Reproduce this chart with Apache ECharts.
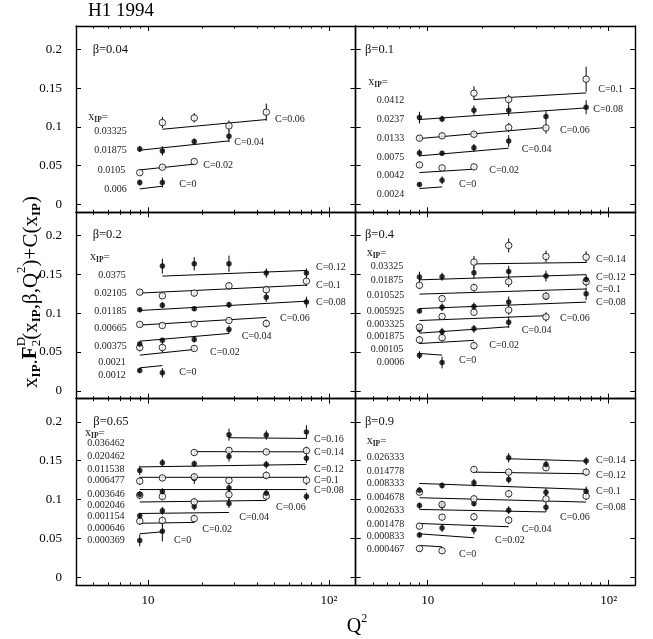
<!DOCTYPE html>
<html><head><meta charset="utf-8">
<script src="https://cdn.jsdelivr.net/npm/echarts@6/dist/echarts.min.js"></script>
<style>html,body{margin:0;padding:0;background:#fff}#c{width:653px;height:639px}</style>
</head><body><div id="c"></div>
<script>
// ---------------- DATA ----------------
const Q2 = [9, 12, 18, 28, 45, 75];
const Y_TICKS = [0, 0.05, 0.1, 0.15, 0.2];
const X_MAJOR = [10, 100];
const X_MINOR = [5, 6, 7, 8, 9, 20, 30, 40, 50, 60, 70, 80, 90];

// beta = 0.04
const b1_beta = 'β=0.04';
const b1_xpom = ['0.006', '0.0105', '0.01875', '0.03325'];
const b1_C = [0, 0.02, 0.04, 0.06];
const b1_y = [
  [0.0283, 0.0283, null, null, null, null],
  [0.0411, 0.0481, 0.0554, null, null, null],
  [0.0717, 0.0691, 0.0811, 0.0880, null, null],
  [null, 0.1056, 0.1116, 0.1013, 0.1190, null]
];
const b1_err = [
  [0.004, 0.0065, null, null, null, null],
  [0.003, 0.003, 0.003, null, null, null],
  [0.004, 0.006, 0.004, 0.0075, null, null],
  [null, 0.007, 0.006, 0.007, 0.011, null]
];
const b1_fit = [[0.0201, 0.0236], [0.0446, 0.0520], [0.0700, 0.0820], [0.0970, 0.1095]];

// beta = 0.1
const b2_beta = 'β=0.1';
const b2_xpom = ['0.0024', '0.0042', '0.0075', '0.0133', '0.0237', '0.0412'];
const b2_C = [0, 0.02, 0.04, 0.06, 0.08, 0.1];
const b2_y = [
  [0.0257, 0.0313, null, null, null, null],
  [0.0511, 0.0472, 0.0485, null, null, null],
  [0.0665, 0.0661, 0.0730, 0.0820, null, null],
  [0.0855, 0.0885, 0.0906, 0.0992, 0.0987, null],
  [0.1120, 0.1103, 0.1215, 0.1215, 0.1133, 0.1254],
  [null, null, 0.1434, 0.1353, null, 0.1615]
];
const b2_err = [
  [0.003, 0.005, null, null, null, null],
  [0.004, 0.003, 0.003, null, null, null],
  [0.0045, 0.003, 0.005, 0.0075, null, null],
  [0.004, 0.004, 0.004, 0.006, 0.0075, null],
  [0.0075, 0.004, 0.006, 0.0075, 0.007, 0.009],
  [null, null, 0.009, 0.006, null, 0.016]
];
const b2_fit = [[0.0206, 0.0227], [0.0412, 0.0455], [0.0627, 0.0726], [0.0850, 0.0992], [0.1095, 0.1245], [0.1353, 0.1438]];

// beta = 0.2
const b3_beta = 'β=0.2';
const b3_xpom = ['0.0012', '0.0021', '0.00375', '0.00665', '0.01185', '0.02105', '0.0375'];
const b3_C = [0, 0.02, 0.04, 0.06, 0.08, 0.1, 0.12];
const b3_y = [
  [0.0262, 0.0232, null, null, null, null],
  [0.0558, 0.0558, 0.0546, null, null, null],
  [0.0602, 0.0653, 0.0662, 0.0790, null, null],
  [0.0855, 0.0842, 0.0863, 0.0906, 0.0868, null],
  [0.1044, 0.1104, 0.1057, 0.1108, 0.1207, 0.1143],
  [0.1271, 0.1224, 0.1259, 0.1353, 0.1302, 0.1413],
  [null, 0.1607, 0.1637, 0.1637, 0.1517, 0.1517]
];
const b3_err = [
  [0.003, 0.006, null, null, null, null],
  [0.005, 0.006, 0.004, null, null, null],
  [0.003, 0.003, 0.004, 0.005, null, null],
  [0.003, 0.003, 0.003, 0.004, 0.005, null],
  [0.003, 0.004, 0.003, 0.004, 0.006, 0.007],
  [0.004, 0.003, 0.004, 0.005, 0.005, 0.0065],
  [null, 0.0095, 0.0085, 0.0105, 0.006, 0.006]
];
const b3_fit = [[0.0296, 0.0326], [0.0460, 0.0533], [0.0640, 0.0739], [0.0847, 0.0945], [0.1035, 0.1155], [0.1259, 0.1362], [0.1478, 0.1551]];

// beta = 0.4
const b4_beta = 'β=0.4';
const b4_xpom = ['0.0006', '0.00105', '0.001875', '0.003325', '0.005925', '0.010525', '0.01875', '0.03325'];
const b4_C = [0, 0.02, 0.04, 0.06, 0.08, 0.1, 0.12, 0.14];
const b4_y = [
  [0.0460, 0.0365, null, null, null, null],
  [0.0657, 0.0685, 0.0582, null, null, null],
  [0.0790, 0.0762, 0.0799, 0.0885, null, null],
  [0.0820, 0.0958, 0.1012, 0.1040, 0.0952, null],
  [0.1027, 0.1077, 0.1087, 0.1145, 0.1210, 0.1250],
  [0.1360, 0.1188, 0.1330, 0.1405, 0.1220, 0.1405],
  [0.1465, 0.1470, 0.1521, 0.1536, 0.1478, 0.1435],
  [null, null, 0.1658, 0.1873, 0.1731, 0.1722]
];
const b4_err = [
  [0.005, 0.0075, null, null, null, null],
  [0.005, 0.005, 0.005, null, null, null],
  [0.004, 0.005, 0.005, 0.0075, null, null],
  [0.004, 0.004, 0.004, 0.006, 0.006, null],
  [0.003, 0.005, 0.005, 0.007, 0.004, 0.008],
  [0.005, 0.003, 0.005, 0.007, 0.005, 0.006],
  [0.007, 0.005, 0.0075, 0.0075, 0.007, 0.006],
  [null, null, 0.008, 0.009, 0.0075, 0.0075]
];
const b4_fit = [[0.0481, 0.0460], [0.0610, 0.0650], [0.0743, 0.0825], [0.0906, 0.0968], [0.1060, 0.1143], [0.1246, 0.1312], [0.1430, 0.1497], [0.1635, 0.1654]];

// beta = 0.65
const b5_beta = 'β=0.65';
const b5_xpom = ['0.000369', '0.000646', '0.001154', '0.002046', '0.003646', '0.006477', '0.011538', '0.020462', '0.036462'];
const b5_C = [0, 0.02, 0.04, 0.06, 0.08, 0.1, 0.12, 0.14, 0.16];
const b5_y = [
  [0.0473, 0.0590, null, null, null, null],
  [0.0722, 0.0730, 0.0754, null, null, null],
  [0.0790, 0.0855, 0.0910, 0.0950, null, null],
  [0.1055, 0.1040, 0.0970, 0.1063, 0.1045, null],
  [0.1066, 0.1104, 0.1270, 0.1147, 0.1080, 0.1040],
  [0.1237, 0.1278, 0.1292, 0.1246, 0.1311, 0.1248],
  [0.1373, 0.1473, 0.1461, 0.1555, 0.1450, 0.1530],
  [null, null, 0.1606, 0.1633, 0.1613, 0.1630],
  [null, null, null, 0.1835, 0.1830, 0.1870]
];
const b5_err = [
  [0.0075, 0.013, null, null, null, null],
  [0.005, 0.005, 0.005, null, null, null],
  [0.004, 0.005, 0.005, 0.006, null, null],
  [0.005, 0.005, 0.005, 0.007, 0.005, null],
  [0.004, 0.004, 0.007, 0.005, 0.005, 0.005],
  [0.005, 0.004, 0.004, 0.004, 0.005, 0.006],
  [0.006, 0.005, 0.004, 0.0065, 0.005, 0.006],
  [null, null, 0.004, 0.004, 0.004, 0.005],
  [null, null, null, 0.0077, 0.006, 0.0086]
];
const b5_fit = [[0.0558, 0.0584], [0.0694, 0.0705], [0.0820, 0.0833], [0.0968, 0.0988], [0.1128, 0.1128], [0.1286, 0.1286], [0.1420, 0.1452], [0.1617, 0.1614], [0.1796, 0.1787]];

// beta = 0.9
const b6_beta = 'β=0.9';
const b6_xpom = ['0.000467', '0.000833', '0.001478', '0.002633', '0.004678', '0.008333', '0.014778', '0.026333'];
const b6_C = [0, 0.02, 0.04, 0.06, 0.08, 0.1, 0.12, 0.14];
const b6_y = [
  [0.0368, 0.0340, null, null, null, null],
  [0.0544, 0.0632, 0.0612, null, null, null],
  [0.0657, 0.0773, 0.0777, 0.0734, null, null],
  [0.0923, 0.0923, 0.0949, 0.0863, 0.0900, null],
  [0.1095, 0.0935, 0.1009, 0.1074, 0.1009, 0.1044],
  [0.1120, 0.1181, 0.1216, 0.1259, 0.1095, 0.1108],
  [null, null, 0.1387, 0.1353, 0.1409, 0.1353],
  [null, null, null, 0.1538, 0.1452, 0.1495]
];
const b6_err = [
  [0.004, 0.004, null, null, null, null],
  [0.004, 0.005, 0.006, null, null, null],
  [0.004, 0.004, 0.005, 0.005, null, null],
  [0.004, 0.006, 0.004, 0.005, 0.006, null],
  [0.004, 0.004, 0.004, 0.005, 0.005, 0.005],
  [0.004, 0.004, 0.005, 0.005, 0.005, 0.006],
  [null, null, 0.004, 0.004, 0.004, 0.005],
  [null, null, null, 0.006, 0.005, 0.005]
];
const b6_fit = [[0.0408, 0.0391], [0.0558, 0.0507], [0.0691, 0.0649], [0.0872, 0.0840], [0.1023, 0.0967], [0.1207, 0.1130], [0.1353, 0.1332], [0.1525, 0.1495]];

const PANELS = [
  { beta: b1_beta, xpom: b1_xpom, C: b1_C, y: b1_y, err: b1_err, fit: b1_fit },
  { beta: b2_beta, xpom: b2_xpom, C: b2_C, y: b2_y, err: b2_err, fit: b2_fit },
  { beta: b3_beta, xpom: b3_xpom, C: b3_C, y: b3_y, err: b3_err, fit: b3_fit },
  { beta: b4_beta, xpom: b4_xpom, C: b4_C, y: b4_y, err: b4_err, fit: b4_fit },
  { beta: b5_beta, xpom: b5_xpom, C: b5_C, y: b5_y, err: b5_err, fit: b5_fit },
  { beta: b6_beta, xpom: b6_xpom, C: b6_C, y: b6_y, err: b6_err, fit: b6_fit }
];

// ---------------- LAYOUT / STYLE ----------------
const FONT = '"Liberation Serif", "Times New Roman", serif';
const QMIN = 4, QMAX = 140, YMIN = -0.01, YMAX = 0.23;
const PW = 279.5, PH = 186.3;
const FIRST_FILLED = [true, true, true, true, true, false];
const LAYOUT = [
  { left: 76, top: 26, beta: [92.7, 49.3], xeq: [88.3, 116.7],
    xp: [[104.3, 189.3], [97.7, 170], [94.3, 150], [94.3, 131]],
    cl: [[179.3, 184.3], [203.3, 165.7], [234.3, 142.7], [275, 119]] },
  { left: 355.7, top: 26, beta: [365, 49.3], xeq: [368.3, 81.7],
    xp: [[376.7, 194], [376.7, 175], [376.7, 157.3], [376.7, 138.3], [376.7, 119], [376.7, 100]],
    cl: [[459, 184.3], [489.3, 170], [521.7, 149.3], [560, 130.7], [593.3, 109], [598.3, 89]] },
  { left: 76, top: 212.3, beta: [92.7, 235], xeq: [90, 256.7],
    xp: [[98.3, 375], [98.3, 362], [94.3, 346], [94.3, 328], [94.3, 311], [94.3, 293.7], [98.3, 275]],
    cl: [[179.3, 372], [210, 352.7], [241.7, 336.7], [280, 318.7], [316, 302.3], [316, 285.3], [316, 267.7]] },
  { left: 355.7, top: 212.3, beta: [365, 235], xeq: [366.7, 253],
    xp: [[376.7, 362.3], [370.7, 349], [366.7, 336.7], [366.7, 324], [366.7, 311], [366.7, 295], [370.7, 280], [370.7, 266.7]],
    cl: [[459, 360.7], [489.3, 345], [521.7, 330.7], [560, 318.3], [596, 302.3], [596, 289], [596, 277.7], [596, 259]] },
  { left: 76, top: 398.6, beta: [93.3, 421.7], xeq: [85, 432.7],
    xp: [[87.3, 540], [87.3, 528.3], [87.3, 516.7], [87.3, 505], [87.3, 494], [87.3, 480], [87.3, 469], [87.3, 456.7], [87.3, 443.3]],
    cl: [[174, 540], [202.3, 529], [239.3, 517.7], [276, 507.7], [314, 490.7], [314, 480], [314, 469], [314, 452.7], [314, 439]] },
  { left: 355.7, top: 398.6, beta: [365, 421.7], xeq: [366.7, 440.7],
    xp: [[366.7, 549], [366.7, 536], [366.7, 524], [366.7, 510.7], [366.7, 497.7], [366.7, 483.3], [366.7, 471], [366.7, 457.7]],
    cl: [[459, 554.3], [495, 540.7], [521.7, 529], [560, 517.7], [596, 507.3], [596, 491.7], [596, 475], [596, 460.7]] }
];

// ---------------- HELPERS ----------------
const mctx = document.createElement('canvas').getContext('2d');
function fontStr(size, bold) { return (bold ? 'bold ' : '') + size + 'px ' + FONT; }
function measure(t, size, bold) { mctx.font = fontStr(size, bold); return mctx.measureText(t).width; }
function txt(t, x, y, size, color, align, bold) {
  return { type: 'text', x: x, y: y, silent: true,
    style: { text: t, font: fontStr(size, bold), fill: color || '#000',
      align: align || 'left', textAlign: align || 'left', verticalAlign: 'middle', textVerticalAlign: 'middle' } };
}
// pieces laid out horizontally; stay = don't advance (stack next piece)
function richGroup(pieces, cx, cy, rot, color) {
  let x = 0; const kids = [];
  pieces.forEach(p => {
    const w = measure(p.t, p.s, p.b);
    kids.push(txt(p.t, x, p.dy || 0, p.s, color, 'left', p.b));
    if (!p.stay) x += w;
  });
  kids.forEach(k => { k.x -= x / 2; });
  return { type: 'group', x: cx, y: cy, rotation: rot || 0, children: kids, silent: true };
}
function richLeft(pieces, lx, cy, color) {
  let x = 0; const kids = [];
  pieces.forEach(p => {
    const w = measure(p.t, p.s, p.b);
    kids.push(txt(p.t, x, p.dy || 0, p.s, color, 'left', p.b));
    if (!p.stay) x += w;
  });
  return { type: 'group', x: lx, y: cy, children: kids, silent: true };
}

// ---------------- OPTION ----------------
const option = { animation: false, backgroundColor: '#fff', grid: [], xAxis: [], yAxis: [], series: [], graphic: [] };
const axisLineStyle = { color: '#000', width: 1.4 };
const LOG_MIN = Math.log10(QMIN), LOG_MAX = Math.log10(QMAX);
const MINOR_LOG = X_MINOR.map(v => Math.log10(v));

function errRender(params, api) {
  const q = api.value(0), y = api.value(1), e = api.value(2);
  const a = api.coord([q, y - e]), b = api.coord([q, y + e]);
  return { type: 'line', shape: { x1: a[0], y1: a[1], x2: b[0], y2: b[1] }, style: { stroke: '#000', lineWidth: 1 } };
}

PANELS.forEach((P, g) => {
  const L = LAYOUT[g];
  const bottomRow = g >= 4, leftCol = g % 2 === 0;
  option.grid.push({ left: L.left, top: L.top, width: PW, height: PH });
  ['bottom', 'top'].forEach(pos => {
    option.xAxis.push({
      type: 'log', logBase: 10, gridIndex: g, min: QMIN, max: QMAX, position: pos,
      axisLine: { show: true, onZero: false, lineStyle: axisLineStyle },
      axisTick: { show: true, inside: true, length: 5, lineStyle: { color: '#000', width: 1 } },
      axisLabel: { show: pos === 'bottom' && bottomRow, showMinLabel: false, showMaxLabel: false,
        color: '#000', fontFamily: FONT, fontSize: 13, margin: 9,
        formatter: v => { const r = Math.round(v); return r === 10 ? '10' : (r === 100 ? '10²' : ''); } },
      splitLine: { show: false }
    });
  });
  ['bottom', 'top'].forEach(pos => {
    option.xAxis.push({
      type: 'value', gridIndex: g, min: LOG_MIN, max: LOG_MAX, position: pos,
      axisLine: { show: false, onZero: false },
      axisTick: { show: true, inside: true, length: 2.5, customValues: MINOR_LOG, lineStyle: { color: '#000', width: 1 } },
      axisLabel: { show: false }, splitLine: { show: false }
    });
  });
  ['left', 'right'].forEach(pos => {
    option.yAxis.push({
      type: 'value', gridIndex: g, min: YMIN, max: YMAX, position: pos,
      axisLine: { show: true, onZero: false, lineStyle: axisLineStyle },
      axisTick: { show: true, inside: true, length: 5, customValues: Y_TICKS, lineStyle: { color: '#000', width: 1 } },
      axisLabel: { show: pos === 'left' && leftCol, customValues: Y_TICKS, color: '#000', fontFamily: FONT, fontSize: 13, margin: 14 },
      splitLine: { show: false }
    });
  });
  const xi = 4 * g, yi = 2 * g;
  P.y.forEach((row, k) => {
    const filled = (k % 2 === 0) === FIRST_FILLED[g];
    const pts = [], ebs = [];
    row.forEach((v, j) => {
      if (v !== null) { pts.push([Q2[j], v]); ebs.push([Q2[j], v, P.err[k][j]]); }
    });
    option.series.push({ type: 'line', xAxisIndex: xi, yAxisIndex: yi, silent: true, z: 2,
      data: [[pts[0][0], P.fit[k][0]], [pts[pts.length - 1][0], P.fit[k][1]]],
      symbol: 'none', showSymbol: false, lineStyle: { color: '#000', width: 1 } });
    option.series.push({ type: 'custom', xAxisIndex: xi, yAxisIndex: yi, silent: true, z: 3,
      data: ebs, encode: { x: 0, y: 1 }, renderItem: errRender });
    option.series.push({ type: 'scatter', xAxisIndex: xi, yAxisIndex: yi, silent: true, z: 4,
      data: pts, symbol: 'circle', symbolSize: filled ? 5.5 : 6.5,
      itemStyle: filled ? { color: '#000' } : { color: '#fff', borderColor: '#000', borderWidth: 1 } });
  });
  // annotations
  option.graphic.push(txt(P.beta, L.beta[0], L.beta[1], 12.5, '#111'));
  option.graphic.push(richLeft([{ t: 'x', s: 12 }, { t: 'IP', s: 7.5, b: true, dy: 3 }, { t: '=', s: 11 }], L.xeq[0], L.xeq[1], '#222'));
  P.xpom.forEach((s, k) => option.graphic.push(txt(s, L.xp[k][0], L.xp[k][1], 10, '#222')));
  P.C.forEach((c, k) => option.graphic.push(txt('C=' + c, L.cl[k][0], L.cl[k][1], 10, '#222')));
});

// titles
option.graphic.push(txt('H1 1994', 88, 11, 19, '#000'));
option.graphic.push(richGroup([{ t: 'Q', s: 20 }, { t: '2', s: 12, dy: -8 }], 357, 627, 0, '#000'));
const S = 21, s = 13;
option.graphic.push(richGroup([
  { t: 'x', s: S }, { t: 'IP', s: s, b: true, dy: 6 }, { t: '.', s: S }, { t: 'F', s: S, b: true },
  { t: 'D', s: s, dy: -9, stay: true }, { t: '2', s: s, dy: 6 },
  { t: '(', s: S }, { t: 'x', s: S }, { t: 'IP', s: s, b: true, dy: 6 }, { t: ',', s: S }, { t: 'β', s: S },
  { t: ',', s: S }, { t: 'Q', s: S }, { t: '2', s: s, dy: -9 }, { t: ')', s: S }, { t: '+', s: S }, { t: 'C', s: S },
  { t: '(', s: S }, { t: 'x', s: S }, { t: 'IP', s: s, b: true, dy: 6 }, { t: ')', s: S }
], 31, 292, Math.PI / 2, '#000'));

const chart = echarts.init(document.getElementById('c'), null, { renderer: 'canvas' });
chart.setOption(option);
</script>
</body></html>
